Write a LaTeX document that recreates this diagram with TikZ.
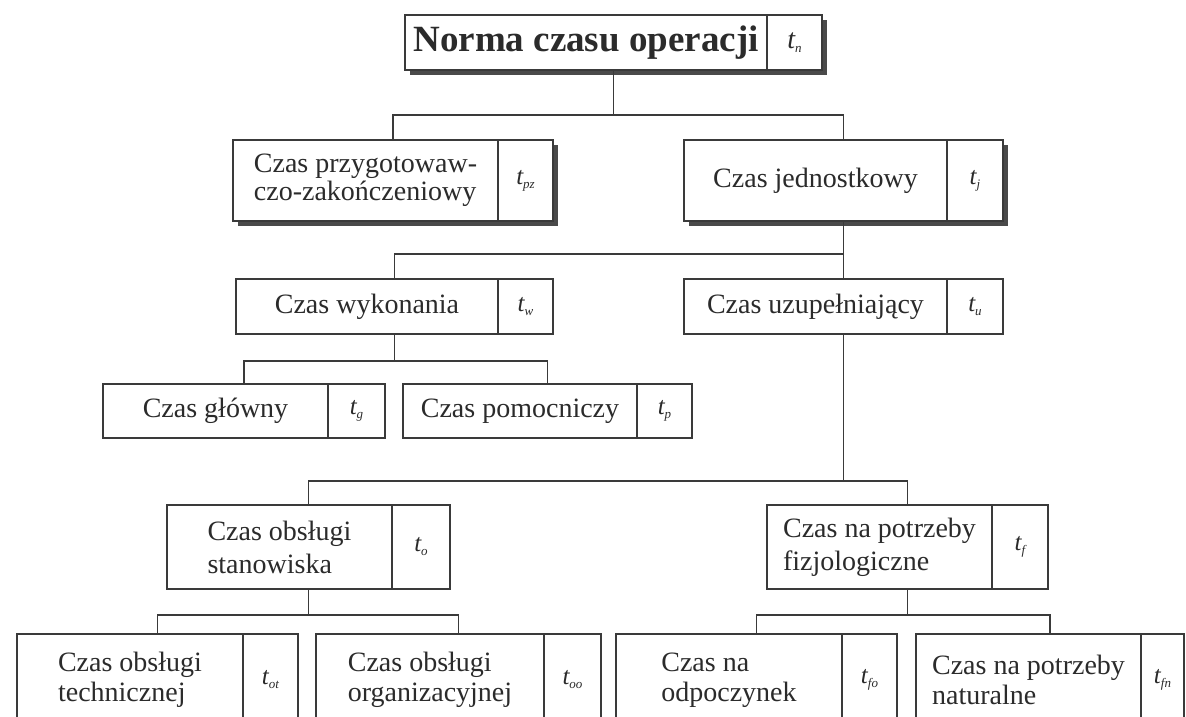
\documentclass[tikz,border=0pt]{standalone}
\usepackage{fontspec}
\setmainfont{Liberation Serif}
\usetikzlibrary{shadows}

\definecolor{ink}{HTML}{2B2B2B}
\definecolor{rule}{HTML}{3A3A3A}
\definecolor{shade}{HTML}{4A4A4A}

% time symbol: italic t with a small subscript
\newcommand\tsym[1]{t\raisebox{-0.35ex}{\fontsize{13}{13}\selectfont #1}}

\tikzset{
  box/.style={draw=rule, line width=1.3pt, fill=white, inner sep=0pt},
  shadowed/.style={drop shadow={shadow xshift=5pt, shadow yshift=-5pt, fill=shade, opacity=1}},
  plain/.style={},
  divider/.style={draw=rule, line width=1.3pt},
  lbl/.style={text=ink, font=\fontsize{28}{28}\selectfont, align=left, inner sep=0pt},
  symb/.style={text=ink, font=\fontsize{25}{25}\selectfont\itshape, inner sep=0pt},
  conn/.style={draw=rule, line width=1.3pt},
}

% box with a label cell and a symbol cell:
% #1 name, #2 left, #3 top, #4 right, #5 bottom, #6 divider x, #7 label, #8 symbol, #9 box style
\newcommand\tbox[9]{%
  \node[box,#9,minimum width={(#4-#2)*1pt},minimum height={(#5-#3)*1pt}] (#1) at ({(#2+#4)/2},{(#3+#5)/2}) {};
  \draw[divider] (#6,#3) -- (#6,#5);
  \node[lbl] (#1-t) at ({(#2+#6)/2},{(#3+#5)/2}) {#7};
  \node[symb] (#1-s) at ({(#6+#4)/2},{(#3+#5)/2}) {#8};
}

\begin{document}
\begin{tikzpicture}[x=1pt,y=-1pt]
\clip (0,0) rectangle (1186,716);
\fill[white] (0,0) rectangle (1186,716);

% bus levels
\coordinate (b1) at (0,115);
\coordinate (b2) at (0,254);
\coordinate (b3) at (0,361);
\coordinate (b4) at (0,481);
\coordinate (b5) at (0,615);

% level 1
\tbox{n}{405}{15}{822}{70}{767}{\fontsize{37}{37}\selectfont\bfseries Norma czasu operacji}{\fontsize{28}{28}\selectfont\tsym{n}}{shadowed}

% level 2
\tbox{pz}{233}{140}{553}{221}{498}{Czas przygotowaw-\\czo-zakończeniowy}{\tsym{pz}}{shadowed}
\tbox{j}{684}{140}{1003}{221}{947}{Czas jednostkowy}{\tsym{j}}{shadowed}

% level 3
\tbox{w}{236}{279}{553}{334}{498}{Czas wykonania}{\tsym{w}}{plain}
\tbox{u}{684}{279}{1003}{334}{947}{Czas uzupełniający}{\tsym{u}}{plain}

% level 4
\tbox{g}{103}{384}{385}{438}{328}{Czas główny}{\tsym{g}}{plain}
\tbox{p}{403}{384}{692}{438}{637}{Czas pomocniczy}{\tsym{p}}{plain}
\tbox{o}{167}{505}{450}{589}{392}{Czas obsługi\\[5pt]stanowiska}{\tsym{o}}{plain}
\tbox{f}{767}{505}{1048}{589}{992}{Czas na potrzeby\\[5pt]fizjologiczne}{\tsym{f}}{plain}

% level 5
\tbox{ot}{17}{634}{298}{726}{243}{Czas obsługi\\[2pt]technicznej}{\tsym{ot}}{plain}
\tbox{oo}{316}{634}{601}{726}{544}{Czas obsługi\\[2pt]organizacyjnej}{\tsym{oo}}{plain}
\tbox{fo}{616}{634}{897}{726}{842}{Czas na\\[2pt]odpoczynek}{\tsym{fo}}{plain}
\tbox{fn}{916}{634}{1184}{726}{1141}{Czas na potrzeby\\[2pt]naturalne}{\tsym{fn}}{plain}

% connectors
\draw[conn] (n.south) -- (n.south |- b1);
\draw[conn] (pz.north) |- (b1 -| j.north) -- (j.north);

\draw[conn] (j.south) -- (u.north);
\draw[conn] (w.north) |- (b2 -| j.south);

\draw[conn] (w.south) -- (w.south |- b3);
\draw[conn] (g.north) |- (b3 -| p.north) -- (p.north);

\draw[conn] (u.south) -- (u.south |- b4);
\draw[conn] (o.north) |- (b4 -| f.north) -- (f.north);

\draw[conn] (o.south) -- (o.south |- b5);
\draw[conn] (ot.north) |- (b5 -| oo.north) -- (oo.north);
\draw[conn] (f.south) -- (f.south |- b5);
\draw[conn] (fo.north) |- (b5 -| fn.north) -- (fn.north);
\end{tikzpicture}
\end{document}
